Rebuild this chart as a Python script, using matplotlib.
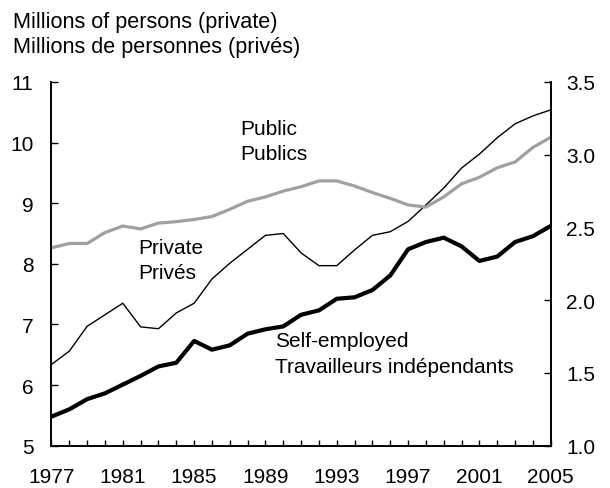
import matplotlib
matplotlib.use("Agg")
import matplotlib.pyplot as plt
import numpy as np

plt.rcParams['font.family'] = ['Liberation Sans', 'DejaVu Sans']

years = list(range(1977, 2006))
private = [6.34, 6.56, 6.97, 7.16, 7.35, 6.96, 6.93, 7.19, 7.35, 7.75,
           8.01, 8.24, 8.47, 8.50, 8.18, 7.97, 7.97, 8.23, 8.47, 8.53,
           8.70, 8.97, 9.25, 9.58, 9.81, 10.08, 10.31, 10.44, 10.54]
public = [2.36, 2.39, 2.39, 2.465, 2.51, 2.49, 2.53, 2.54, 2.555, 2.575,
          2.625, 2.68, 2.71, 2.75, 2.78, 2.82, 2.82, 2.785, 2.74, 2.70,
          2.655, 2.64, 2.71, 2.80, 2.845, 2.91, 2.95, 3.05, 3.12]
self_employed = [1.20, 1.25, 1.32, 1.36, 1.42, 1.48, 1.545, 1.57, 1.72, 1.66,
                 1.69, 1.77, 1.80, 1.82, 1.90, 1.93, 2.01, 2.02, 2.07, 2.17,
                 2.35, 2.40, 2.43, 2.37, 2.27, 2.30, 2.40, 2.44, 2.51]
left_ticks = [5, 6, 7, 8, 9, 10, 11]
right_ticks = [1.0, 1.5, 2.0, 2.5, 3.0, 3.5]
x_label_years = [1977, 1981, 1985, 1989, 1993, 1997, 2001, 2005]

fs = 15
fig = plt.figure(figsize=(6.1, 4.89), dpi=100)
ax = fig.add_axes([0.0844, 0.0865, 0.8184, 0.7438])
ax2 = ax.twinx()

ax.plot(years, private, color='black', lw=1.0, zorder=3)
ax2.plot(years, public, color='#a0a0a0', lw=2.3, zorder=2)
ax2.plot(years, self_employed, color='black', lw=3.0, zorder=3)

ax.set_xlim(1977, 2005)
ax.set_ylim(5, 11)
ax2.set_ylim(1.0, 3.5)

ax.set_xticks(years, minor=True)
ax.set_xticks(x_label_years)
ax.set_xticklabels([str(y) for y in x_label_years], fontsize=fs)
ax.set_yticks(left_ticks)
ax.set_yticklabels([str(v) for v in left_ticks], fontsize=fs)
ax2.set_yticks(right_ticks)
ax2.set_yticklabels([f"{v:.1f}" for v in right_ticks], fontsize=fs)

ax.tick_params(axis='x', which='both', direction='in', length=4, width=1, pad=15)
ax.tick_params(axis='y', direction='in', length=5, width=1, pad=13)
ax2.tick_params(axis='y', direction='in', length=5, width=1, pad=11)

for a in (ax, ax2):
    a.spines['top'].set_visible(False)
    for s in ('left', 'right', 'bottom'):
        a.spines[s].set_linewidth(1.2)

def label(x, y1, y2, l1, l2):
    ax.text(x, y1, l1, fontsize=fs, ha='left', va='baseline')
    ax.text(x, y2, l2, fontsize=fs, ha='left', va='baseline')

label(1987.58, 10.14, 9.73, "Public", "Publics")
label(1981.84, 8.18, 7.77, "Private", "Privés")
label(1989.54, 6.64, 6.21, "Self-employed", "Travailleurs indépendants")

fig.text(13/610, 1 - 28/489, "Millions of persons (private)", fontsize=15.6, ha='left', va='baseline')
fig.text(13/610, 1 - 53/489, "Millions de personnes (privés)", fontsize=15.6, ha='left', va='baseline')

fig.savefig("out.png", dpi=100)
